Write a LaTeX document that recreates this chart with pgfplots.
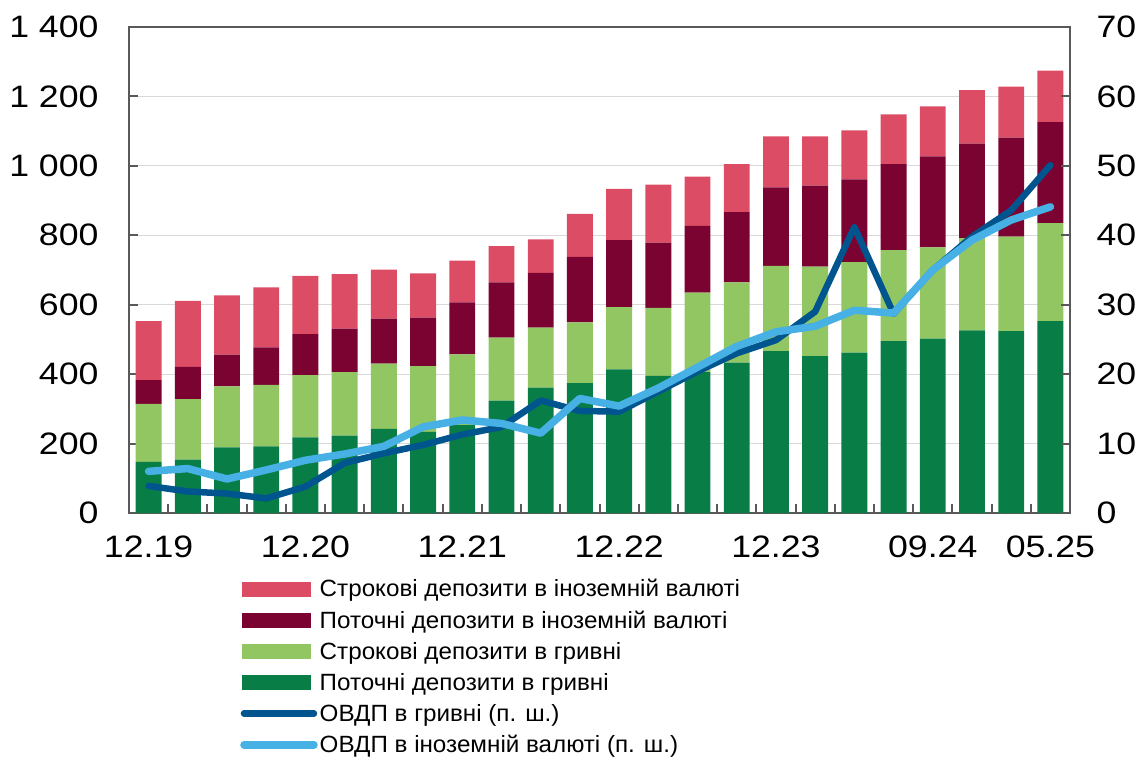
\documentclass[border=0pt]{standalone}
\usepackage{pgfplots}
\pgfplotsset{compat=1.18}
\usepackage{pgfplotstable}
\usepackage{fontspec}
\setmainfont{Liberation Sans}
\newfontfamily\tickfont[FakeStretch=1.15]{Liberation Sans}
\newfontfamily\legfont[FakeStretch=1.03]{Liberation Sans}

\definecolor{cPink}{HTML}{DC4D65}
\definecolor{cDR}{HTML}{7B0332}
\definecolor{cLG}{HTML}{92C663}
\definecolor{cDG}{HTML}{087E46}
\definecolor{cDB}{HTML}{00558F}
\definecolor{cLB}{HTML}{47B0E4}
\definecolor{cAx}{HTML}{595959}
\definecolor{cGrid}{HTML}{D9D9D9}

\pgfplotstableread{
x  dg  lg  dr  pk  ua   fx
0  147 167 69  170 3.9  6.0
1  154 174 93  190 3.1  6.4
2  189 176 91  171 2.8  4.9
3  192 177 108 173 2.1  6.2
4  218 179 118 168 3.8  7.6
5  223 183 125 157 7.2  8.5
6  242 188 130 141 8.6  9.6
7  234 189 140 127 9.8  12.4
8  253 204 150 120 11.3 13.4
9  324 181 159 105 12.4 12.9
10 361 173 158 96  16.2 11.5
11 374 175 189 124 14.7 16.5
12 414 179 193 148 14.6 15.4
13 395 196 188 167 17.5 18.0
14 406 229 192 142 20.4 21.0
15 433 231 203 138 23.0 24.0
16 466 246 226 147 24.9 26.1
17 452 258 233 142 29.0 26.9
18 462 261 238 141 41.2 29.2
19 495 262 248 143 28.7 28.8
20 502 263 262 144 35.0 35.0
21 526 266 272 154 39.8 39.3
22 524 272 285 147 43.6 42.2
23 553 282 291 148 50.1 44.1
}\data

\begin{document}
\begin{tikzpicture}
\pgfplotsset{
  common/.style={
    at={(0,0)}, anchor=south west,
    scale only axis, width=941pt, height=486pt,
    xmin=-0.5, xmax=23.5,
    axis line style={draw=cAx, line width=2.5pt},
    tick style={color=cAx, line width=2pt},
    major tick length=9pt,
    tick align=inside,
    scaled y ticks=false,
    /pgf/number format/assume math mode=true,
    /pgf/number format/1000 sep={\ },
    ticklabel style={font=\tickfont\fontsize{31}{36}\selectfont},
  }
}
\begin{axis}[common,
  ymin=0, ymax=1400,
  ybar stacked, bar width=0.66,
  ytick={0,200,...,1400}, ytick pos=left,
  yticklabel style={xshift=-27pt},
  ymajorgrids, grid style={draw=cGrid, line width=1.2pt},
  xtick={-0.5,0.5,...,23.5},
  xticklabels={12.19,,,,12.20,,,,12.21,,,,12.22,,,,12.23,,,,09.24,,,05.25,{}},
  xtick pos=left,
  xticklabel style={yshift=-19pt, xshift=19.604pt},
]
\addplot[fill=cDG, draw=none] table[x=x,y=dg]{\data};
\addplot[fill=cLG, draw=none] table[x=x,y=lg]{\data};
\addplot[fill=cDR, draw=none] table[x=x,y=dr]{\data};
\addplot[fill=cPink, draw=none] table[x=x,y=pk]{\data};
\end{axis}
\begin{axis}[common,
  ymin=0, ymax=70,
  hide x axis,
  ytick={0,10,...,70}, ytick pos=right,
  yticklabel style={xshift=23pt},
  legend style={at={(0.118,-0.132)}, anchor=north west, draw=none, fill=none,
    font=\legfont\fontsize{23.5}{28}\selectfont, row sep=8.5pt, inner sep=0pt},
  legend cell align=left,
]
\addlegendimage{legend image code/.code={\fill[cPink] (0pt,-7pt) rectangle (68pt,7pt);}}
\addlegendentry{Строкові депозити в іноземній валюті}
\addlegendimage{legend image code/.code={\fill[cDR] (0pt,-7pt) rectangle (68pt,7pt);}}
\addlegendentry{Поточні депозити в іноземній валюті}
\addlegendimage{legend image code/.code={\fill[cLG] (0pt,-7pt) rectangle (68pt,7pt);}}
\addlegendentry{Строкові депозити в гривні}
\addlegendimage{legend image code/.code={\fill[cDG] (0pt,-7pt) rectangle (68pt,7pt);}}
\addlegendentry{Поточні депозити в гривні}
\addplot[color=cDB, line width=6.5pt, line join=round, line cap=round,
  legend image code/.code={\draw[cDB, line width=6.5pt, line cap=round] (2pt,0pt) -- (72pt,0pt);}]
  table[x=x,y=ua]{\data};
\addlegendentry{ОВДП в гривні (п. ш.)}
\addplot[color=cLB, line width=7.5pt, line join=round, line cap=round,
  legend image code/.code={\draw[cLB, line width=7.5pt, line cap=round] (2pt,0pt) -- (72pt,0pt);}]
  table[x=x,y=fx]{\data};
\addlegendentry{ОВДП в іноземній валюті (п. ш.)}
\end{axis}
\pgfresetboundingbox
\useasboundingbox (-129pt,-247pt) rectangle (1018pt,513pt);
\end{tikzpicture}
\end{document}
